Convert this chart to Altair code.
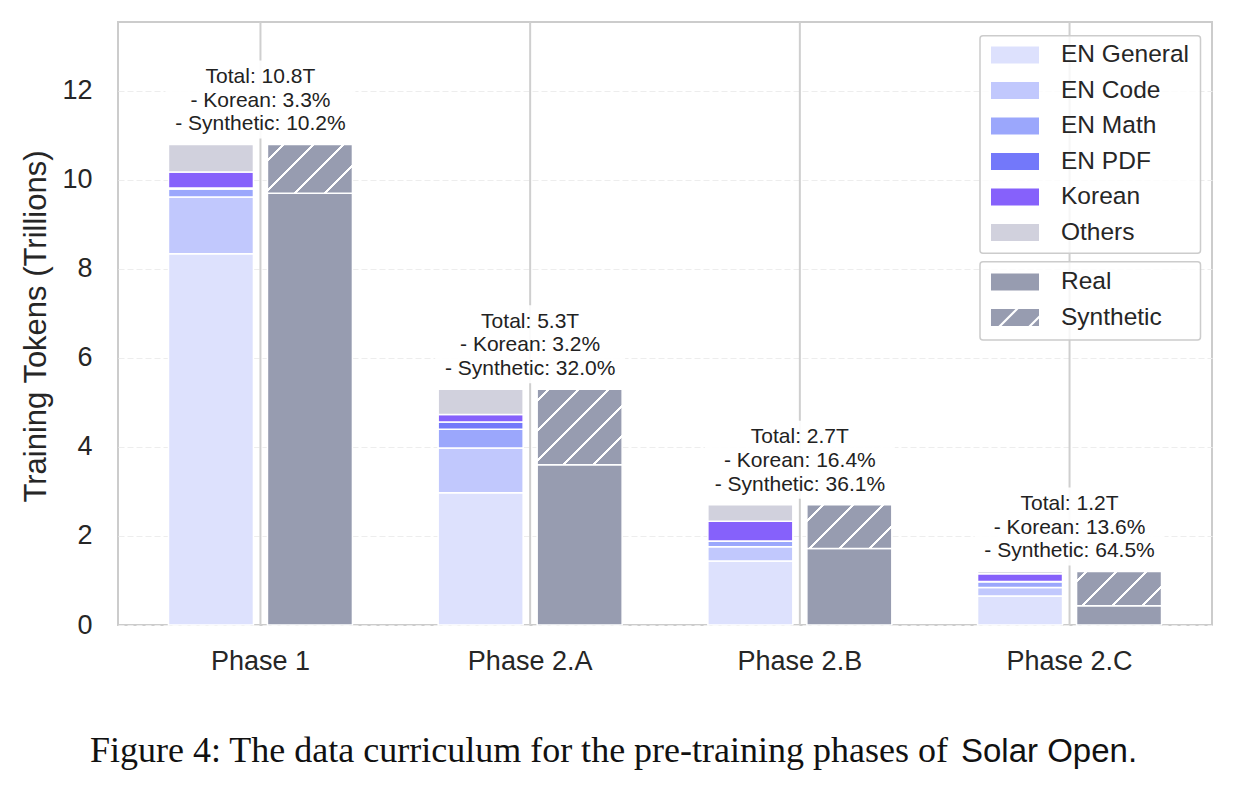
import math
import altair as alt
import pandas as pd

# ---------------- data ----------------
phases = ["Phase 1", "Phase 2.A", "Phase 2.B", "Phase 2.C"]
categories = ["EN General", "EN Code", "EN Math", "EN PDF", "Korean", "Others"]
en_general = [8.34, 2.97, 1.44, 0.65]
en_code = [1.28, 1.01, 0.32, 0.19]
en_math = [0.18, 0.42, 0.12, 0.13]
en_pdf = [0.02, 0.16, 0.01, 0.01]
korean = [0.36, 0.17, 0.44, 0.17]
others = [0.62, 0.57, 0.37, 0.05]
kinds = ["Real", "Synthetic"]
real = [9.70, 3.60, 1.72, 0.43]
synthetic = [1.10, 1.70, 0.98, 0.77]
total_tokens = ["10.8", "5.3", "2.7", "1.2"]
korean_share = ["3.3", "3.2", "16.4", "13.6"]
synthetic_share = ["10.2", "32.0", "36.1", "64.5"]
y_ticks = [0, 2, 4, 6, 8, 10, 12]
caption_main = "Figure 4: The data curriculum for the pre-training phases of"
caption_name = "Solar Open."

# ---------------- styles / layout ----------------
FONT = "Liberation Sans"
TXT = "#262626"
cat_colors = ["#dde1fd", "#c1c8fd", "#9ba7fc", "#7378fa", "#8661fb", "#d1d1dd"]
REAL_C = "#979cb0"
LEFT, TOP = 118, 22
PLOT_W, PLOT_H = 1094, 603
Y_MAX = 13.55
PX = PLOT_H / Y_MAX
X_PO = 0.0282
OFF_PI, OFF_PO = 0.1414, 0.4329
STEP = PLOT_W / (4 + 2 * X_PO)
STEP_O = STEP / (2 - OFF_PI + 2 * OFF_PO)
BAR_W = STEP_O * (1 - OFF_PI)

# legend swatch geometry (48 x 17 px drawn with a symbol of nominal size 24.5)
SYM_SIZE = 600
SYM_U = math.sqrt(SYM_SIZE) / 2
SYM_CELL = math.ceil(math.sqrt(SYM_SIZE))
SW_W, SW_H = 24.0, 8.5
SYM_OFFSET = SW_W - SYM_CELL / 2
LABEL_OFFSET = 2 * SW_W + 22 - SYM_CELL - SYM_OFFSET


def hatch_gradient(w, h, x0, y0, period=30.0, lw=2.2, anchor=8.0):
    """Linear gradient with hard stops that draws white '/' hatch lines."""
    L = w + h
    r = h / w
    k = (1 + r) / (1 + r * r)
    half = lw * math.sqrt(2) / 2
    start = (anchor - (x0 + y0)) % period
    stops = [{"offset": 0, "color": REAL_C}]
    xt = start - period
    while xt - half < L:
        a = max(0.0, (xt - half) / L)
        b = min(1.0, (xt + half) / L)
        if b > 0 and a < 1:
            a, b = round(a, 4), round(b, 4)
            stops += [{"offset": a, "color": REAL_C}, {"offset": a, "color": "#ffffff"},
                      {"offset": b, "color": "#ffffff"}, {"offset": b, "color": REAL_C}]
        xt += period
    stops.append({"offset": 1, "color": REAL_C})
    return {"gradient": "linear", "x1": 0, "y1": 0, "x2": round(k, 4),
            "y2": round(k * r, 4), "stops": stops}


def clip(poly, a, b, c):
    out = []
    n = len(poly)
    for i in range(n):
        p, q = poly[i], poly[(i + 1) % n]
        fp = a * p[0] + b * p[1] - c
        fq = a * q[0] + b * q[1] - c
        if fp <= 0:
            out.append(p)
        if fp * fq < 0:
            t = fp / (fp - fq)
            out.append((p[0] + t * (q[0] - p[0]), p[1] + t * (q[1] - p[1])))
    return out


def to_path(polys):
    return "".join("M" + "L".join(f"{x / SYM_U:.3f},{y / SYM_U:.3f}" for x, y in p) + "Z"
                   for p in polys if len(p) >= 3)


RECT = [(-SW_W, -SW_H), (SW_W, -SW_H), (SW_W, SW_H), (-SW_W, SW_H)]
RECT_PATH = to_path([RECT])


def hatch_symbol(centers=(-6.5, 23.5), lw=2.2):
    hw = lw * math.sqrt(2) / 2
    bounds = [None]
    for c in centers:
        bounds += [c - hw, c + hw]
    bounds.append(None)
    polys = []
    for lo, hi in zip(bounds[0::2], bounds[1::2]):
        poly = RECT
        if lo is not None:
            poly = clip(poly, -1, -1, -lo)
        if hi is not None:
            poly = clip(poly, 1, 1, hi)
        polys.append(poly)
    return to_path(polys)


# ---------------- tables ----------------
left_rows = []
series = [en_general, en_code, en_math, en_pdf, korean, others]
for i, ph in enumerate(phases):
    for j, cat in enumerate(categories):
        left_rows.append({"phase": ph, "category": cat, "value": series[j][i],
                          "ord": j, "side": "L"})
left_df = pd.DataFrame(left_rows)

right_rows = []
for i, ph in enumerate(phases):
    tot = real[i] + synthetic[i]
    x0 = LEFT + STEP * (X_PO + i) + STEP_O * (OFF_PO + 1)
    y0 = TOP + (Y_MAX - tot) * PX
    right_rows.append({"phase": ph, "kind": "Real", "value": real[i], "ord": 0,
                       "side": "R", "paint": REAL_C})
    right_rows.append({"phase": ph, "kind": "Synthetic", "value": synthetic[i], "ord": 1,
                       "side": "R",
                       "paint": hatch_gradient(BAR_W, synthetic[i] * PX, x0, y0)})
right_df = pd.DataFrame(right_rows)

ann_df = pd.DataFrame({
    "phase": phases,
    "total": [real[i] + synthetic[i] for i in range(4)],
    "label": [[f"Total: {total_tokens[i]}T", f"- Korean: {korean_share[i]}%",
               f"- Synthetic: {synthetic_share[i]}%"] for i in range(4)],
})

# ---------------- encodings ----------------
Y_TITLE = "Training Tokens (Trillions)"
x_scale = alt.Scale(domain=phases, paddingInner=0, paddingOuter=X_PO)
y_scale = alt.Scale(domain=[0, Y_MAX], nice=False, zero=True)
xo_enc = alt.XOffset("side:N", scale=alt.Scale(domain=["L", "R"], paddingInner=OFF_PI,
                                               paddingOuter=OFF_PO))
x_axis = alt.Axis(title=None, labelAngle=0, ticks=False, domain=False, grid=False,
                  labelFontSize=27, labelColor=TXT, labelFont=FONT, labelPadding=23)
y_axis = alt.Axis(values=y_ticks, ticks=False, domain=False, grid=True,
                  gridColor="#ededed", gridDash=[6, 3], gridWidth=1,
                  labelFontSize=27, labelColor=TXT, labelFont=FONT, labelPadding=26,
                  titleFontSize=31, titleFont=FONT, titleFontWeight="normal",
                  titleColor=TXT, titleAngle=270, titleBaseline="alphabetic",
                  titleX=-73, titleY=304)

legend_common = dict(title=None, orient="none", symbolSize=SYM_SIZE, symbolStrokeWidth=0,
                     symbolOffset=SYM_OFFSET, labelOffset=LABEL_OFFSET,
                     labelFontSize=24.5, labelColor=TXT, labelFont=FONT,
                     rowPadding=10.5, padding=8)

rules = alt.Chart(pd.DataFrame({"phase": phases})).mark_rule(
    color="#cfcfcf", strokeWidth=2).encode(
    x=alt.X("phase:N", scale=x_scale, axis=x_axis))

left_bars = alt.Chart(left_df).mark_bar(stroke="white", strokeWidth=1.5).encode(
    x=alt.X("phase:N", scale=x_scale, axis=x_axis),
    xOffset=xo_enc,
    y=alt.Y("value:Q", stack="zero", scale=y_scale, axis=y_axis, title=Y_TITLE),
    order=alt.Order("ord:Q"),
    fill=alt.Fill("category:N", scale=alt.Scale(domain=categories, range=cat_colors),
                  legend=alt.Legend(legendX=865, legendY=12.5, symbolType=RECT_PATH,
                                    **legend_common)),
)

right_bars = alt.Chart(right_df).mark_bar(stroke="white", strokeWidth=1.5).encode(
    x=alt.X("phase:N", scale=x_scale, axis=x_axis),
    xOffset=xo_enc,
    y=alt.Y("value:Q", stack="zero", scale=y_scale, title=Y_TITLE),
    order=alt.Order("ord:Q"),
    fill=alt.Fill("paint:N", scale=None),
)

boxes = alt.Chart(ann_df).transform_calculate(
    lo=f"datum.total + {6 / PX}", hi=f"datum.total + {84 / PX}"
).mark_bar(size=190, color="white", opacity=0.9).encode(
    x=alt.X("phase:N", scale=x_scale, axis=x_axis),
    y=alt.Y("lo:Q", scale=y_scale, title=Y_TITLE),
    y2="hi:Q",
)

texts = alt.Chart(ann_df).mark_text(
    baseline="alphabetic", dy=-61.5, fontSize=21, lineHeight=23.7, font=FONT,
    color="#222222"
).encode(
    x=alt.X("phase:N", scale=x_scale, axis=x_axis),
    y=alt.Y("total:Q", scale=y_scale, title=Y_TITLE),
    text="label:N",
)

# legend frames (two separate boxes, as in the reference)
frame_df = pd.DataFrame({"x": [862, 862], "x2": [1082.5, 1082.5],
                         "y": [13.7, 239.7], "y2": [231.3, 318]})
frames = alt.layer(*[
    alt.Chart(frame_df.iloc[[k]]).mark_rect(
        fill="white", fillOpacity=0.8, stroke="#cccccc", strokeWidth=1.5, cornerRadius=3
    ).encode(x=alt.value(float(frame_df.x[k])), x2=alt.value(float(frame_df.x2[k])),
             y=alt.value(float(frame_df.y[k])), y2=alt.value(float(frame_df.y2[k])))
    for k in range(2)
])

kind_legend = alt.Chart(right_df).transform_filter("false").mark_point(
    filled=True, color=REAL_C, opacity=1, strokeWidth=0, size=SYM_SIZE
).encode(
    x=alt.X("phase:N", scale=x_scale, axis=x_axis),
    y=alt.Y("value:Q", scale=y_scale, title=Y_TITLE),
    shape=alt.Shape("kind:N", scale=alt.Scale(domain=kinds,
                                              range=[RECT_PATH, hatch_symbol()]),
                    legend=alt.Legend(legendX=865, legendY=239.5,
                                      symbolFillColor=REAL_C, **legend_common)),
)

cap1 = alt.Chart(pd.DataFrame({"t": [caption_main]})).mark_text(
    align="right", baseline="alphabetic", font="Liberation Serif", fontSize=36,
    color="#111111").encode(text="t:N", x=alt.value(948 - LEFT), y=alt.value(762 - TOP))
cap2 = alt.Chart(pd.DataFrame({"t": [caption_name]})).mark_text(
    align="left", baseline="alphabetic", font=FONT, fontSize=33,
    color="#111111").encode(text="t:N", x=alt.value(961 - LEFT), y=alt.value(762 - TOP))

chart = alt.layer(
    left_bars, rules, right_bars, boxes, texts, frames, kind_legend, cap1, cap2
).properties(
    width=PLOT_W, height=PLOT_H,
    padding={"left": LEFT, "top": TOP, "right": 1237 - LEFT - PLOT_W,
             "bottom": 788 - TOP - PLOT_H},
    autosize=alt.AutoSizeParams(type="none"),
    background="white",
).configure_view(
    stroke="#cccccc", strokeWidth=2
)

chart.save("out.html", embed_options={"renderer": "svg", "actions": False})
